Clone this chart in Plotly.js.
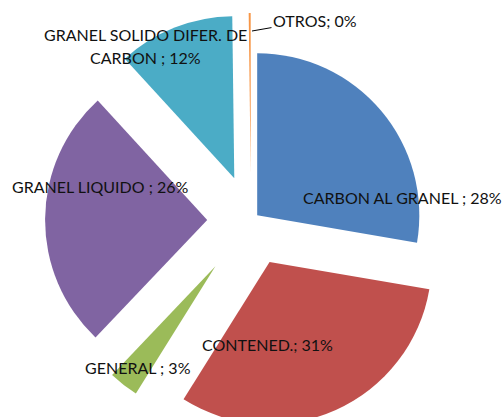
<!DOCTYPE html>
<html>
<head>
<meta charset="utf-8">
<script src="https://cdn.plot.ly/plotly-3.0.1.min.js"></script>
<style>
  html, body { margin: 0; padding: 0; overflow: hidden; background: #fff; }
  #chart { width: 504px; height: 441px; }
</style>
</head>
<body>
<div id="chart"></div>
<script>
// Data (percent shares)
const categories = ["CARBON AL GRANEL ", "CONTENED.", "GENERAL ", "GRANEL LIQUIDO ", "GRANEL SOLIDO DIFER. DE CARBON ", "OTROS"];
const values = [27.7, 31.2, 3.2, 26.1, 11.6, 0.2];
const colors = ["#4F81BD", "#C0504D", "#9BBB59", "#8064A2", "#4BACC6", "#F79646"];
const pulls = [0.05, 0.28, 0.36, 0.27, 0.28, 0.28];
// the GENERAL wedge is drawn a little shorter in the reference
const shortIdx = 2;
const shortPull = 0.387;

const W = 504, H = 441;
const total = values.reduce((a, b) => a + b, 0);
const labels = categories.map((c, i) => c + "; " + Math.round(values[i] / total * 100) + "%");

// label placement (pixel centers in the figure)
const labelPos = [
  {x: 402, y: 197},
  {x: 267, y: 344},
  {x: 138, y: 367},
  {x: 100, y: 186},
  {x: 145, y: 34},
  {x: 315, y: 20}
];
const px = x => x / W;
const py = y => 1 - y / H;
const font = {family: "Lato, sans-serif", size: 16, color: "#111"};

const annotations = [];
labels.forEach((t, i) => {
  if (i === 4) {
    const cut = 23;
    annotations.push({xref: "paper", yref: "paper", x: px(labelPos[i].x), y: py(labelPos[i].y), text: t.slice(0, cut), showarrow: false, font, xanchor: "center", yanchor: "middle"});
    annotations.push({xref: "paper", yref: "paper", x: px(labelPos[i].x), y: py(labelPos[i].y + 24), text: t.slice(cut + 1), showarrow: false, font, xanchor: "center", yanchor: "middle"});
  } else if (i === 5) {
    annotations.push({xref: "paper", yref: "paper", x: px(252), y: py(31), ax: 63, ay: -11, text: t, showarrow: true, arrowhead: 0, arrowwidth: 1, arrowcolor: "#000", font, xanchor: "center", yanchor: "middle"});
  } else {
    annotations.push({xref: "paper", yref: "paper", x: px(labelPos[i].x), y: py(labelPos[i].y), text: t, showarrow: false, font, xanchor: "center", yanchor: "middle"});
  }
});

const cx = 251, cy = 220.5;
const halfA = 221, halfB = 208;

const traceA = {
  type: "pie",
  labels: categories,
  values: values,
  sort: false,
  direction: "clockwise",
  rotation: 0,
  pull: pulls,
  marker: {colors: colors.map((c, i) => i === shortIdx ? "rgba(0,0,0,0)" : c), line: {width: 0}},
  textinfo: "none",
  hoverinfo: "skip",
  domain: {x: [(cx - halfA) / W, (cx + halfA) / W], y: [0, 1]},
  showlegend: false
};

const traceB = {
  type: "pie",
  labels: categories,
  values: values,
  sort: false,
  direction: "clockwise",
  rotation: 0,
  pull: pulls.map((p, i) => i === shortIdx ? shortPull : 0),
  marker: {colors: colors.map((c, i) => i === shortIdx ? c : "rgba(0,0,0,0)"), line: {width: 0}},
  textinfo: "none",
  hoverinfo: "skip",
  domain: {x: [(cx - halfB) / W, (cx + halfB) / W], y: [0.5 - halfB / H, 0.5 + halfB / H]},
  showlegend: false
};

const layout = {
  width: W, height: H,
  margin: {l: 0, r: 0, t: 0, b: 0},
  paper_bgcolor: "#fff",
  showlegend: false,
  annotations: annotations
};

Plotly.newPlot("chart", [traceA, traceB], layout, {staticPlot: true, displayModeBar: false});
</script>
</body>
</html>
